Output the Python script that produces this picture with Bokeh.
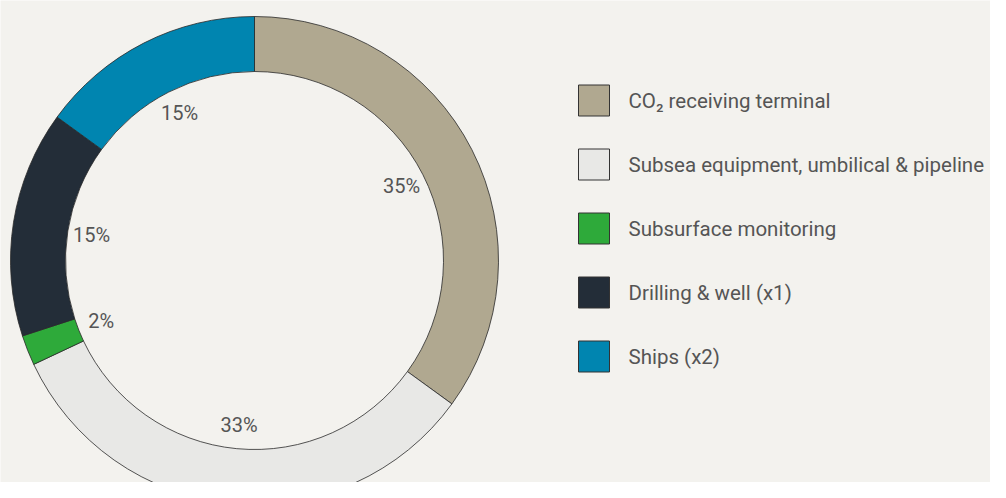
import math
from bokeh.plotting import figure
from bokeh.models import Range1d, ColumnDataSource
from bokeh.core.properties import value
from bokeh.embed import file_html
from bokeh.resources import INLINE

categories = ["CO\u2082 receiving terminal", "Subsea equipment, umbilical & pipeline",
              "Subsurface monitoring", "Drilling & well (x1)", "Ships (x2)"]
shares = [35, 33, 2, 15, 15]
colors = ["#b0a890", "#e8e8e6", "#2eaa3a", "#232d38", "#0085b0"]
labels = ["35%", "33%", "2%", "15%", "15%"]

BG = "#f3f2ee"
W, H = 990, 482
# data units == pixels of the reference frame (y up, top-left aligned)
p = figure(width=W, height=H, output_backend="svg", toolbar_location=None,
           x_range=Range1d(0, W), y_range=Range1d(498 - H, 498),
           min_border=0)
p.axis.visible = False
p.grid.visible = False
p.outline_line_color = None
p.background_fill_color = BG
p.border_fill_color = BG

cx, cy = 254, 498 - 260
r_in, r_out = 189, 244
total = sum(shares)
starts, ends, lx, ly = [], [], [], []
cum = 0.0
for s in shares:
    a0 = math.pi / 2 - 2 * math.pi * cum / total
    cum += s
    a1 = math.pi / 2 - 2 * math.pi * cum / total
    starts.append(a0)
    ends.append(a1)
    mid = (a0 + a1) / 2
    lx.append(cx + 165 * math.cos(mid))
    ly.append(cy + 165 * math.sin(mid))

src = ColumnDataSource(dict(start=starts, end=ends, color=colors))
p.annular_wedge(x=cx, y=cy, inner_radius=r_in, outer_radius=r_out,
                start_angle="start", end_angle="end", direction="clock",
                fill_color="color", line_color="#2a2a2a", line_width=0.8, source=src)

p.text(x=lx, y=ly, text=labels, text_font=value("Roboto"), text_font_size="20px",
       text_color="#555555", text_align="center", text_baseline="middle")

# legend
leg_x = [593.5] * len(categories)
leg_y = [498 - (100 + 64 * i) for i in range(len(categories))]
p.rect(x=leg_x, y=leg_y, width=31, height=31, fill_color=colors,
       line_color="#333333", line_width=1)
p.text(x=[628] * len(categories), y=leg_y, text=categories, text_font=value("Roboto"),
       text_font_size="20.5px", text_color="#555555", text_align="left",
       text_baseline="middle")

open("out.html", "w").write(file_html(p, INLINE))
